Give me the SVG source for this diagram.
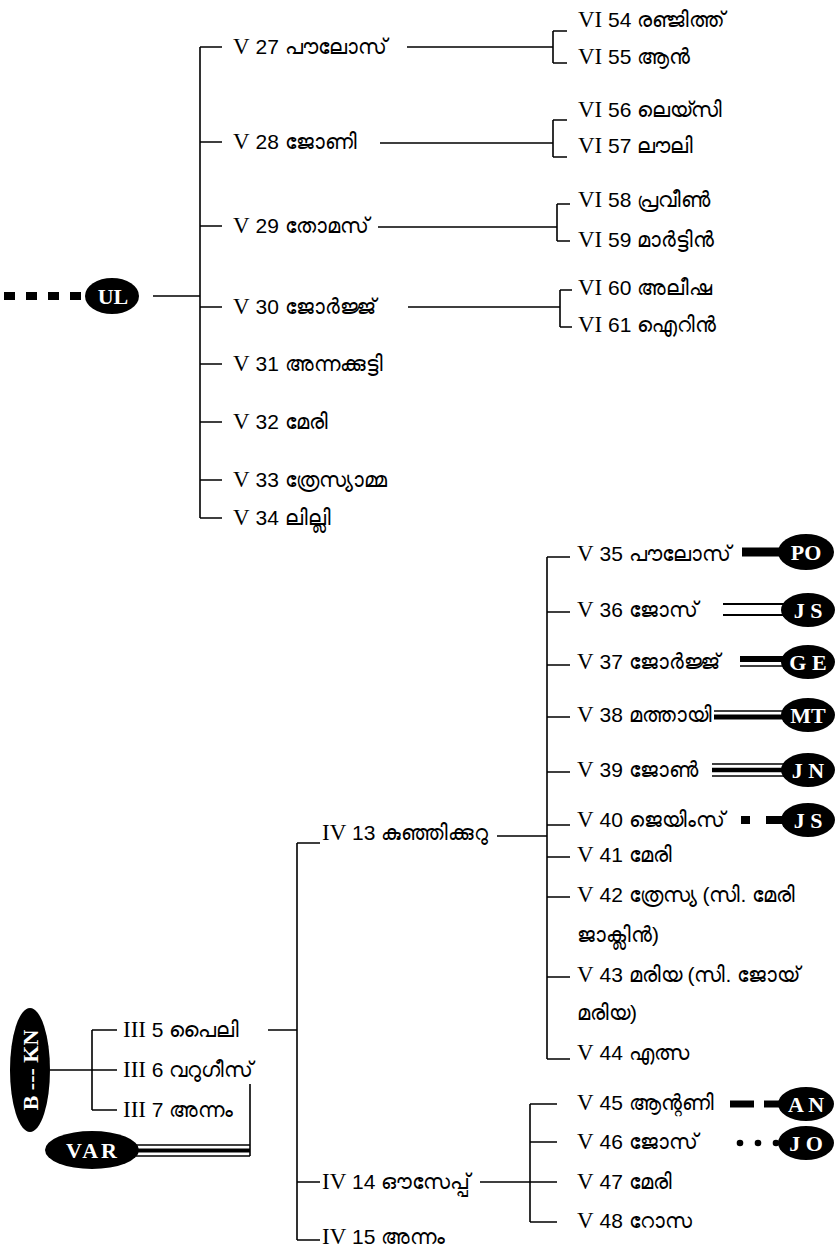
<svg xmlns="http://www.w3.org/2000/svg" width="839" height="1255" viewBox="0 0 839 1255">
<style>
text{font-family:"Liberation Sans","Noto Sans",sans-serif;font-size:21px;fill:#000}
.r{font-family:"Liberation Serif",serif;font-size:23px}
.b{font-family:"Liberation Serif",serif;font-weight:bold;font-size:22px;fill:#fff;text-anchor:middle}
.l{stroke:#000;stroke-width:1.6;fill:none}
.o{fill:#000}
</style>
<rect width="839" height="1255" fill="#fff"/>
<g id="connectors">
<line x1="4" y1="296" x2="88" y2="296" stroke="#000" stroke-width="8" stroke-dasharray="11,11"/>
<path class="l" d="M153 296H200M200 47V518M200 47H222M200 142H222M200 226H222M200 307H222M200 364H222M200 422H222M200 480H222M200 518H222"/>
<path class="l" d="M407 47H553M553 31V63M553 31H567M553 63H567"/>
<path class="l" d="M380 143H553M553 120V157M553 120H567M553 157H567"/>
<path class="l" d="M378 227H557M557 204V241M557 204H570M557 241H570"/>
<path class="l" d="M408 307H560M560 290V327M560 290H572M560 327H572"/>
<path class="l" d="M92 1030V1110M92 1030H117M50 1070H117M92 1110H117M268 1030H297"/>
<path class="l" d="M297 843V1240M297 843H320M297 1182H320M297 1240H320M497 836H547"/>
<path class="l" d="M547 557V1059M547 557H570M547 612H570M547 665H570M547 717H570M547 772H570M547 825H570M547 857H570M547 897H570M547 977H570M547 1059H570"/>
<path class="l" d="M480 1182H530M530 1104V1222M530 1104H557M530 1142H557M530 1182H557M530 1222H557"/>
<path class="l" d="M250 1084V1156"/>
<line x1="136" y1="1145" x2="250" y2="1145" stroke="#000" stroke-width="1.5"/>
<line x1="136" y1="1150.5" x2="250" y2="1150.5" stroke="#000" stroke-width="4"/>
<line x1="136" y1="1156" x2="250" y2="1156" stroke="#000" stroke-width="1.5"/>
<line x1="742" y1="552" x2="784" y2="552" stroke="#000" stroke-width="9"/>
<line x1="723" y1="604" x2="784" y2="604" stroke="#000" stroke-width="2"/>
<line x1="723" y1="615" x2="784" y2="615" stroke="#000" stroke-width="2"/>
<line x1="740" y1="659" x2="784" y2="659" stroke="#000" stroke-width="6"/>
<line x1="740" y1="666" x2="784" y2="666" stroke="#000" stroke-width="1.5"/>
<line x1="714" y1="711" x2="784" y2="711" stroke="#000" stroke-width="1.5"/>
<line x1="714" y1="717" x2="784" y2="717" stroke="#000" stroke-width="5"/>
<line x1="712" y1="764" x2="784" y2="764" stroke="#000" stroke-width="1.5"/>
<line x1="712" y1="770" x2="784" y2="770" stroke="#000" stroke-width="4.5"/>
<line x1="712" y1="776" x2="784" y2="776" stroke="#000" stroke-width="1.5"/>
<line x1="741" y1="820" x2="750" y2="820" stroke="#000" stroke-width="8"/>
<line x1="766" y1="820" x2="784" y2="820" stroke="#000" stroke-width="8"/>
<line x1="730" y1="1104" x2="754" y2="1104" stroke="#000" stroke-width="7"/>
<line x1="764" y1="1104" x2="784" y2="1104" stroke="#000" stroke-width="7"/>
<circle cx="740" cy="1143" r="3.3"/>
<circle cx="758" cy="1143" r="3.3"/>
<circle cx="776" cy="1143" r="3.3"/>
</g>
<g id="UL"><ellipse class="o" cx="112" cy="296" rx="27" ry="18"/><text class="b" x="113" y="304">UL</text></g>
<g id="V27"><text x="233" y="54"><tspan class="r">V</tspan> 27 പൗലോസ്</text></g>
<g id="V28"><text x="233" y="149"><tspan class="r">V</tspan> 28 ജോണി</text></g>
<g id="V29"><text x="233" y="233"><tspan class="r">V</tspan> 29 തോമസ്</text></g>
<g id="V30"><text x="233" y="314"><tspan class="r">V</tspan> 30 ജോർജ്ജ്</text></g>
<g id="V31"><text x="233" y="371"><tspan class="r">V</tspan> 31 അന്നക്കുട്ടി</text></g>
<g id="V32"><text x="233" y="429"><tspan class="r">V</tspan> 32 മേരി</text></g>
<g id="V33"><text x="233" y="487"><tspan class="r">V</tspan> 33 ത്രേസ്യാമ്മ</text></g>
<g id="V34"><text x="233" y="525"><tspan class="r">V</tspan> 34 ലില്ലി</text></g>
<g id="VI54"><text x="578" y="27"><tspan class="r">VI</tspan> 54 രഞ്ജിത്ത്</text></g>
<g id="VI55"><text x="578" y="64"><tspan class="r">VI</tspan> 55 ആൻ</text></g>
<g id="VI56"><text x="578" y="117"><tspan class="r">VI</tspan> 56 ലെയ്സി</text></g>
<g id="VI57"><text x="578" y="153"><tspan class="r">VI</tspan> 57 ലൗലി</text></g>
<g id="VI58"><text x="578" y="207"><tspan class="r">VI</tspan> 58 പ്രവീൺ</text></g>
<g id="VI59"><text x="578" y="247"><tspan class="r">VI</tspan> 59 മാർട്ടിൻ</text></g>
<g id="VI60"><text x="578" y="295"><tspan class="r">VI</tspan> 60 അലീഷ</text></g>
<g id="VI61"><text x="578" y="332"><tspan class="r">VI</tspan> 61 ഐറിൻ</text></g>
<g id="V35"><text x="577" y="561"><tspan class="r">V</tspan> 35 പൗലോസ്</text></g>
<g id="V36"><text x="577" y="617"><tspan class="r">V</tspan> 36 ജോസ്</text></g>
<g id="V37"><text x="577" y="669"><tspan class="r">V</tspan> 37 ജോർജ്ജ്</text></g>
<g id="V38"><text x="577" y="722"><tspan class="r">V</tspan> 38 മത്തായി</text></g>
<g id="V39"><text x="577" y="777"><tspan class="r">V</tspan> 39 ജോൺ</text></g>
<g id="V40"><text x="577" y="827"><tspan class="r">V</tspan> 40 ജെയിംസ്</text></g>
<g id="V41"><text x="577" y="862"><tspan class="r">V</tspan> 41 മേരി</text></g>
<g id="V42"><text x="577" y="902"><tspan class="r">V</tspan> 42 ത്രേസ്യ (സി. മേരി</text><text x="577" y="942">ജാക്ലിൻ)</text></g>
<g id="V43"><text x="577" y="982"><tspan class="r">V</tspan> 43 മരിയ (സി. ജോയ്</text><text x="577" y="1020">മരിയ)</text></g>
<g id="V44"><text x="577" y="1060"><tspan class="r">V</tspan> 44 എത്സ</text></g>
<g id="V45"><text x="577" y="1110"><tspan class="r">V</tspan> 45 ആന്റണി</text></g>
<g id="V46"><text x="577" y="1149"><tspan class="r">V</tspan> 46 ജോസ്</text></g>
<g id="V47"><text x="577" y="1189"><tspan class="r">V</tspan> 47 മേരി</text></g>
<g id="V48"><text x="577" y="1228"><tspan class="r">V</tspan> 48 റോസ</text></g>
<g id="IV13"><text x="322" y="840"><tspan class="r">IV</tspan> 13 കുഞ്ഞിക്കുറു</text></g>
<g id="IV14"><text x="322" y="1189"><tspan class="r">IV</tspan> 14 ഔസേപ്പ്</text></g>
<g id="IV15"><text x="322" y="1244"><tspan class="r">IV</tspan> 15 അന്നം</text></g>
<g id="III5"><text x="123" y="1037"><tspan class="r">III</tspan> 5 പൈലി</text></g>
<g id="III6"><text x="123" y="1077"><tspan class="r">III</tspan> 6 വറുഗീസ്</text></g>
<g id="III7"><text x="123" y="1117"><tspan class="r">III</tspan> 7 അന്നം</text></g>
<g id="BKN"><ellipse class="o" cx="30" cy="1070" rx="20" ry="62"/><text class="b" transform="translate(38 1070) rotate(-90)" x="0" y="0">B --- KN</text></g>
<g id="VAR"><ellipse class="o" cx="92" cy="1150" rx="47" ry="19"/><text class="b" x="93" y="1158" letter-spacing="3">VAR</text></g>
<g id="PO"><ellipse class="o" cx="806" cy="552" rx="28" ry="18"/><text class="b" x="806" y="560">PO</text></g>
<g id="JS1"><ellipse class="o" cx="808" cy="610" rx="27" ry="17"/><text class="b" x="808" y="618">J S</text></g>
<g id="GE"><ellipse class="o" cx="808" cy="662" rx="27" ry="17"/><text class="b" x="808" y="670">G E</text></g>
<g id="MT"><ellipse class="o" cx="808" cy="715" rx="27" ry="17"/><text class="b" x="808" y="723">MT</text></g>
<g id="JN"><ellipse class="o" cx="808" cy="770" rx="27" ry="17"/><text class="b" x="808" y="778">J N</text></g>
<g id="JS2"><ellipse class="o" cx="808" cy="820" rx="27" ry="17"/><text class="b" x="808" y="828">J S</text></g>
<g id="AN"><ellipse class="o" cx="806" cy="1104" rx="28" ry="17"/><text class="b" x="806" y="1112">A N</text></g>
<g id="JO"><ellipse class="o" cx="806" cy="1143" rx="28" ry="17"/><text class="b" x="806" y="1151">J O</text></g>
</svg>
